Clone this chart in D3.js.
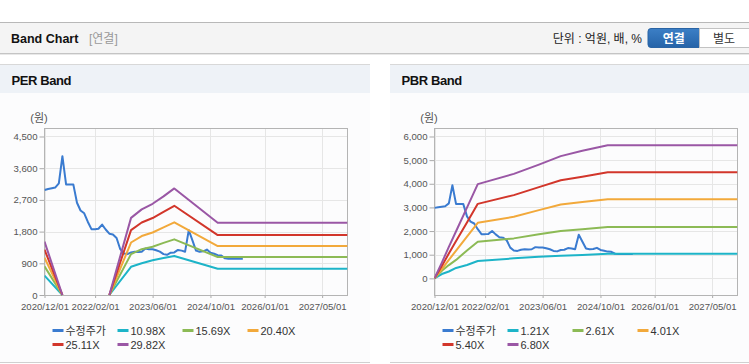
<!DOCTYPE html>
<html><head><meta charset="utf-8">
<script src="https://cdn.jsdelivr.net/npm/d3@7"></script>
<style>
body{margin:0;background:#fff;}
svg{display:block;font-family:"Liberation Sans",Arial,"Noto Sans CJK KR",sans-serif;}
</style></head><body>
<svg id="c" width="749" height="364"></svg>
<script>
// ---------- data ----------
const xTickLabels = ["2020/12/01","2022/02/01","2023/06/01","2024/10/01","2026/01/01","2027/05/01"];
const xDomain = ["2020-12","2027-12"];

const priceMonths = ["2020-12","2021-01","2021-02","2021-03","2021-04","2021-05","2021-06","2021-07","2021-08","2021-09","2021-10","2021-11",
 "2021-12","2022-01","2022-02","2022-03","2022-04","2022-05","2022-06","2022-07","2022-08","2022-09","2022-10","2022-11",
 "2022-12","2023-01","2023-02","2023-03","2023-04","2023-05","2023-06","2023-07","2023-08","2023-09","2023-10","2023-11",
 "2023-12","2024-01","2024-02","2024-03","2024-04","2024-05","2024-06","2024-07","2024-08","2024-09","2024-10","2024-11",
 "2024-12","2025-01","2025-02","2025-03","2025-04","2025-05","2025-06","2025-07"];
const price = [2980,3010,3030,3050,3170,3940,3140,3140,3140,2620,2400,2320,
 2080,1870,1870,1880,2000,1860,1740,1720,1620,1300,1180,1160,
 1210,1230,1220,1230,1320,1300,1300,1270,1230,1160,1140,1200,
 1210,1280,1260,1230,1840,1560,1260,1230,1240,1290,1200,1170,
 1130,1120,1040,1030,1030,1030,1030,1030];

// PER band
const perYTicks = [0,900,1800,2700,3600,4500];
const perBandMonths = ["2020-12","2021-05","2021-11","2022-06","2022-12","2023-03","2023-06","2023-09","2023-12","2024-12","2027-12"];
const per1098 = [550,0,null,0,800,900,985,1050,1106,747,747];
const per1569 = [815,0,null,0,1160,1300,1370,1480,1580,1078,1078];
const per2040 = [1060,0,null,0,1490,1673,1775,1918,2062,1390,1390];
const per2511 = [1290,0,null,0,1843,2059,2185,2360,2533,1702,1702];
const per2982 = [1515,0,null,0,2190,2430,2590,2800,3026,2050,2050];
const perLegend = ["수정주가","10.98X","15.69X","20.40X","25.11X","29.82X"];

// PBR band
const pbrYTicks = [0,1000,2000,3000,4000,5000,6000];
const pbrBandMonths = ["2020-12","2021-02","2021-04","2021-06","2021-09","2021-12","2022-10","2023-05","2023-11","2024-05","2024-12","2027-12"];
const pbr121 = [0,182,290,440,562,731,845,915,960,990,1035,1035];
const pbr261 = [0,320,560,780,1180,1546,1690,1860,2000,2080,2167,2167];
const pbr401 = [0,390,780,1170,1760,2349,2603,2885,3120,3230,3350,3350];
const pbr540 = [0,525,1050,1575,2360,3150,3519,3860,4150,4300,4491,4491];
const pbr680 = [0,665,1330,1990,2990,3984,4420,4810,5170,5400,5632,5632];
const pbrLegend = ["수정주가","1.21X","2.61X","4.01X","5.40X","6.80X"];

const colors = ["#3a7bd0","#1db4c8","#8cba55","#f2a93b","#d2362b","#9a57a5"];

// ---------- drawing ----------
const svg = d3.select("#c");
const pm = d3.timeParse("%Y-%m");
const pd = d3.timeParse("%Y/%m/%d");
const fmt = d3.timeFormat("%Y/%m/%d");
const FONT = '"Liberation Sans",Arial,"Noto Sans CJK KR",sans-serif';

// top header
svg.append("rect").attr("x",0).attr("y",22).attr("width",749).attr("height",31).attr("fill","#f4f4f4");
svg.append("line").attr("x1",0).attr("x2",749).attr("y1",22.5).attr("y2",22.5).attr("stroke","#b8b8b8");
svg.append("line").attr("x1",0).attr("x2",749).attr("y1",53.5).attr("y2",53.5).attr("stroke","#c4c4c4");
svg.append("line").attr("x1",0).attr("x2",749).attr("y1",54.5).attr("y2",54.5).attr("stroke","#e8e8e8");
svg.append("text").attr("x",11).attr("y",42.5).attr("font-size",12.5).attr("font-weight","bold").attr("fill","#111").text("Band Chart");
svg.append("text").attr("x",89).attr("y",42.5).attr("font-size",12).attr("fill","#999").text("[연결]");
svg.append("text").attr("x",642).attr("y",42.5).attr("text-anchor","end").attr("font-size",12).attr("fill","#222").text("단위 : 억원, 배, %");
const grad = svg.append("defs").append("linearGradient").attr("id","btn").attr("x1",0).attr("x2",0).attr("y1",0).attr("y2",1);
grad.append("stop").attr("offset","0").attr("stop-color","#3c7fc6");
grad.append("stop").attr("offset","1").attr("stop-color","#2563a8");
svg.append("path").attr("d","M651,28.5 H699.5 V47.5 H651 Q648,47.5 648,44.5 V31.5 Q648,28.5 651,28.5Z").attr("fill","url(#btn)").attr("stroke","#2a64a4");
svg.append("text").attr("x",673.7).attr("y",42.5).attr("text-anchor","middle").attr("font-size",12).attr("font-weight","bold").attr("fill","#fff").text("연결");
svg.append("rect").attr("x",699.5).attr("y",28.5).attr("width",55).attr("height",19).attr("fill","#fff").attr("stroke","#c2c2c2");
svg.append("text").attr("x",724).attr("y",42.5).attr("text-anchor","middle").attr("font-size",12).attr("fill","#333").text("별도");

function panel(opt){
  const g = svg.append("g").attr("transform",`translate(${opt.x0},0)`);
  const w = opt.w;
  g.append("rect").attr("x",0).attr("y",93).attr("width",w).attr("height",269).attr("fill","#fcfcfd");
  g.append("rect").attr("x",0).attr("y",64.5).attr("width",w).attr("height",28.5).attr("fill","#eef2f7");
  g.append("line").attr("x1",0).attr("x2",w).attr("y1",64.5).attr("y2",64.5).attr("stroke","#d8d8d8");
  g.append("line").attr("x1",0).attr("x2",w).attr("y1",362.5).attr("y2",362.5).attr("stroke","#d0d0d0");
  g.append("text").attr("x",11.5).attr("y",85).attr("font-size",13).attr("font-weight","bold")
    .attr("letter-spacing","-0.4").attr("fill","#111").text(opt.title);

  const L = 44.5, R = 347.5, T = 128.5, B = 295;
  const x = d3.scaleTime().domain(xDomain.map(pm)).range([L,R]);
  const y = d3.scaleLinear().domain(opt.yDomain).range([B,T]);

  // grid
  const ticksD = xTickLabels.map(pd);
  g.append("g").selectAll("line").data(ticksD).join("line")
    .attr("x1",d=>Math.round(x(d))+0.5).attr("x2",d=>Math.round(x(d))+0.5).attr("y1",T).attr("y2",B)
    .attr("stroke","#e6e6e6");
  g.append("g").selectAll("line").data(opt.yTicks).join("line")
    .attr("x1",L).attr("x2",R).attr("y1",d=>Math.round(y(d))+0.5).attr("y2",d=>Math.round(y(d))+0.5)
    .attr("stroke","#e6e6e6");

  // axes
  const yAxis = d3.axisLeft(y).tickValues(opt.yTicks).tickSize(5).tickPadding(2).tickFormat(d3.format(","));
  const ya = g.append("g").attr("transform",`translate(${L},0)`).call(yAxis);
  ya.select(".domain").remove();
  ya.selectAll(".tick line").attr("stroke","#aaa");
  ya.selectAll(".tick text").attr("fill","#555").attr("font-size",9.6).attr("font-family",FONT);
  const xAxis = d3.axisBottom(x).tickValues(ticksD).tickSize(3).tickPadding(5).tickFormat(fmt);
  const xa = g.append("g").attr("transform",`translate(0,${B})`).call(xAxis);
  xa.select(".domain").remove();
  xa.selectAll(".tick line").attr("stroke","#aaa");
  xa.selectAll(".tick text").attr("fill","#555").attr("font-size",9.6).attr("font-family",FONT);

  g.append("rect").attr("x",L).attr("y",T).attr("width",R-L).attr("height",B-T+0.5)
    .attr("fill","none").attr("stroke","#b4b4b4");
  g.append("text").attr("x",39).attr("y",121.5).attr("text-anchor","middle").attr("font-size",11).attr("fill","#555").text("(원)");

  // series
  const clipId = "clip"+opt.x0;
  g.append("clipPath").attr("id",clipId).append("rect").attr("x",L).attr("y",T).attr("width",R-L).attr("height",B-T+2);
  const line = d3.line().defined(d=>d.v!=null).x(d=>x(d.d)).y(d=>y(d.v));
  const sg = g.append("g").attr("clip-path",`url(#${clipId})`);
  opt.series.forEach((s,i)=>{
    const pts = s.dates.map((d,j)=>({d:pm(d),v:s.values[j]}));
    sg.append("path").attr("d",line(pts)).attr("fill","none").attr("stroke",colors[i])
      .attr("stroke-width",2).attr("stroke-linejoin","round");
  });

  // legend
  const lg = g.append("g");
  opt.legend.forEach((name,i)=>{
    const col = i%4, row = Math.floor(i/4);
    const lx = 52.5 + col*65, ly = 330.5 + row*14;
    lg.append("line").attr("x1",lx).attr("x2",lx+11).attr("y1",ly).attr("y2",ly)
      .attr("stroke",colors[i]).attr("stroke-width",3);
    lg.append("text").attr("x",lx+13).attr("y",ly+4).attr("font-size",11).attr("fill","#333").text(name);
  });
}

panel({x0:0,w:370,title:"PER Band",yDomain:[0,4727],yTicks:perYTicks,legend:perLegend,
  series:[
    {dates:priceMonths,values:price},
    {dates:perBandMonths,values:per1098},
    {dates:perBandMonths,values:per1569},
    {dates:perBandMonths,values:per2040},
    {dates:perBandMonths,values:per2511},
    {dates:perBandMonths,values:per2982}
  ]});
panel({x0:390,w:359,title:"PBR Band",yDomain:[-705,6338],yTicks:pbrYTicks,legend:pbrLegend,
  series:[
    {dates:priceMonths,values:price},
    {dates:pbrBandMonths,values:pbr121},
    {dates:pbrBandMonths,values:pbr261},
    {dates:pbrBandMonths,values:pbr401},
    {dates:pbrBandMonths,values:pbr540},
    {dates:pbrBandMonths,values:pbr680}
  ]});
</script>
</body></html>
